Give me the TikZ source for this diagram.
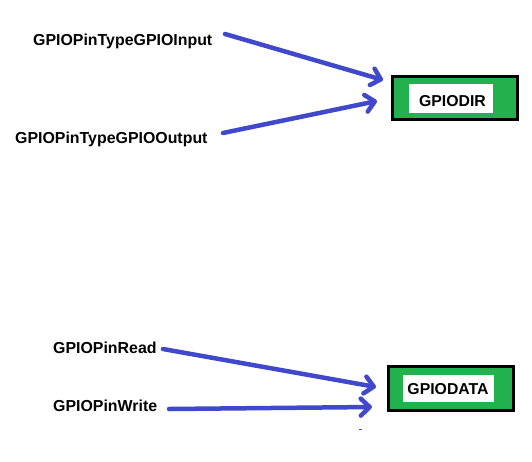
\documentclass[tikz,border=0pt]{standalone}
\usepackage{fontspec}
\setmainfont{Liberation Sans}
\usetikzlibrary{arrows.meta}
\definecolor{arrblue}{RGB}{64,72,204}
\definecolor{boxgreen}{RGB}{34,177,76}
\tikzset{
  lbl/.style={anchor=base west, inner sep=0pt, font=\fontsize{15.9}{18}\selectfont\bfseries},
  boxlbl/.style={anchor=base, inner sep=0pt, font=\fontsize{15.8}{18}\selectfont\bfseries},
  outerbox/.style={draw=black, line width=3pt, fill=boxgreen, inner sep=0pt, minimum width=125pt},
  innerbox/.style={fill=white, inner sep=0pt},
  flow/.style={draw=arrblue, line width=4.5pt, line cap=round, line join=round,
    -{Straight Barb[length=9pt, width=17pt, line cap=round, line join=round]}},
}
\begin{document}
\begin{tikzpicture}[x=1pt, y=-1pt]
\useasboundingbox (0,0) rectangle (532,461);
% labels
\node[lbl] (inp) at (33,45) {GPIOPinTypeGPIOInput};
\node[lbl] (outp) at (15,143) {GPIOPinTypeGPIOOutput};
\node[lbl] (rd) at (53,353.5) {GPIOPinRead};
\node[lbl] (wr) at (53,411) {GPIOPinWrite};
% boxes
\node[outerbox, minimum height=43pt] (dir) at (455,98) {};
\node[innerbox, minimum width=84pt, minimum height=29pt] (dirw) at (451,98.5) {};
\node[boxlbl] (dirt) at (452.5,106) {GPIODIR};
\node[outerbox, minimum height=44pt] (data) at (451,388.5) {};
\node[innerbox, minimum width=91pt, minimum height=27pt] (dataw) at (448.5,388.5) {};
\node[boxlbl] (datat) at (448,394) {GPIODATA};
% arrow ends
\coordinate (a1s) at (225,34);
\coordinate (a1e) at (383,80);
\coordinate (a2s) at (223,133);
\coordinate (a2e) at (377,101);
\coordinate (a3s) at (163,349);
\coordinate (a3e) at (376,387);
\coordinate (a4s) at (169,409);
\coordinate (a4e) at (372,407);
\draw[flow] (a1s) -- (a1e);
\draw[flow] (a2s) -- (a2e);
\draw[flow] (a3s) -- (a3e);
\draw[flow] (a4s) -- (a4e);
% small mark
\fill[arrblue] (358.5,428.5) rectangle (361.5,429.5);
\end{tikzpicture}
\end{document}
